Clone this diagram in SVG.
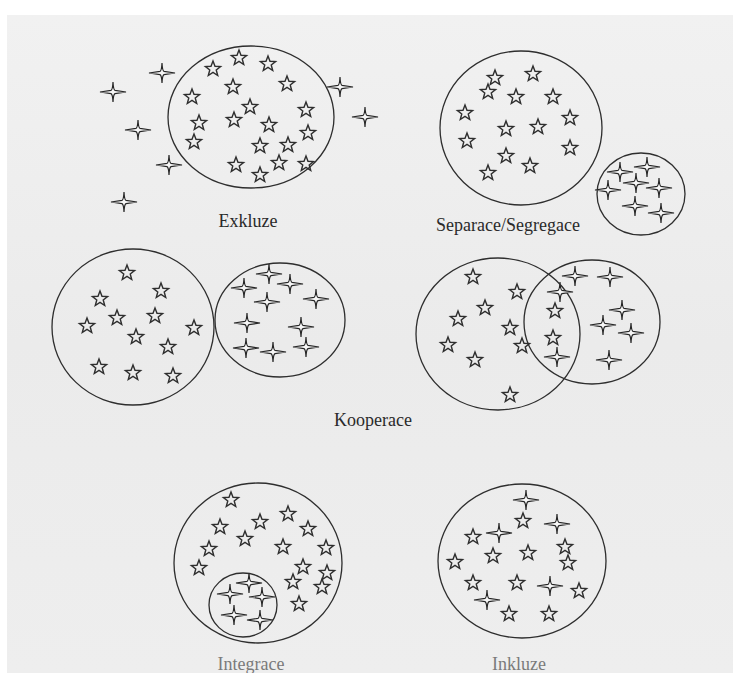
<svg xmlns="http://www.w3.org/2000/svg" xmlns:xlink="http://www.w3.org/1999/xlink" width="733" height="673" viewBox="0 0 733 673">
  <style>
    .ring { fill: none; stroke: #2e2e2e; stroke-width: 1.3; }
    .lbl { font-family: "Liberation Serif", "DejaVu Serif", serif; font-size: 18px; fill: #2a2a2a; text-anchor: middle; }
    .lbl.faint { fill: #7a7a7a; }
    .s5 { fill: none; stroke: #2e2e2e; stroke-width: 1.4; stroke-linejoin: miter; }
    .s4 { fill: #f6f6f6; stroke: #262626; stroke-width: 1.2; stroke-linejoin: miter; }
  </style>
  <defs>
    <linearGradient id="paper" x1="0" y1="0" x2="0" y2="1">
      <stop offset="0" stop-color="#f1f1f1"/>
      <stop offset="0.5" stop-color="#ebebeb"/>
      <stop offset="1" stop-color="#eeeeee"/>
    </linearGradient>
    <!-- five-pointed outline star -->
    <path id="star5" class="s5" d="M0,-8 L2,-2.75 L7.61,-2.47 L3.23,1.05 L4.7,6.47 L0,3.4 L-4.7,6.47 L-3.23,1.05 L-7.61,-2.47 L-2,-2.75 Z"/>
    <!-- four-pointed sparkle, long thin horizontal arms -->
    <path id="star4" class="s4" d="M0,-10 Q0.4,-2.2 2,-1.6 L13,0 L2,1.6 Q0.4,2.2 0,10 Q-0.4,2.2 -2,1.6 L-13,0 L-2,-1.6 Q-0.4,-2.2 0,-10 Z"/>
  </defs>

  <rect width="733" height="673" fill="#ffffff"/>
  <rect x="7" y="15" width="726" height="658" fill="url(#paper)"/>

  <!-- Exkluze -->
  <g id="exkluze">
    <ellipse class="ring" cx="251" cy="117" rx="83" ry="71"/>
    <use xlink:href="#star5" x="239" y="58"/>
    <use xlink:href="#star5" x="213" y="69"/>
    <use xlink:href="#star5" x="268" y="64"/>
    <use xlink:href="#star5" x="233" y="87"/>
    <use xlink:href="#star5" x="287" y="84"/>
    <use xlink:href="#star5" x="192" y="97"/>
    <use xlink:href="#star5" x="250" y="107"/>
    <use xlink:href="#star5" x="306" y="110"/>
    <use xlink:href="#star5" x="199" y="123"/>
    <use xlink:href="#star5" x="234" y="120"/>
    <use xlink:href="#star5" x="269" y="125"/>
    <use xlink:href="#star5" x="308" y="133"/>
    <use xlink:href="#star5" x="194" y="142"/>
    <use xlink:href="#star5" x="260" y="146"/>
    <use xlink:href="#star5" x="288" y="145"/>
    <use xlink:href="#star5" x="236" y="165"/>
    <use xlink:href="#star5" x="279" y="163"/>
    <use xlink:href="#star5" x="306" y="164"/>
    <use xlink:href="#star5" x="260" y="175"/>
    <use xlink:href="#star4" x="162" y="73"/>
    <use xlink:href="#star4" x="113" y="92"/>
    <use xlink:href="#star4" x="340" y="87"/>
    <use xlink:href="#star4" x="365" y="117"/>
    <use xlink:href="#star4" x="138" y="130"/>
    <use xlink:href="#star4" x="169" y="165"/>
    <use xlink:href="#star4" x="124" y="202"/>
    <text class="lbl" x="248" y="227">Exkluze</text>
  </g>

  <!-- Separace/Segregace -->
  <g id="separace">
    <ellipse class="ring" cx="521" cy="128" rx="81" ry="77"/>
    <ellipse class="ring" cx="641" cy="194" rx="44" ry="41"/>
    <use xlink:href="#star5" x="495" y="78"/>
    <use xlink:href="#star5" x="533" y="74"/>
    <use xlink:href="#star5" x="488" y="92"/>
    <use xlink:href="#star5" x="516" y="97"/>
    <use xlink:href="#star5" x="553" y="97"/>
    <use xlink:href="#star5" x="465" y="113"/>
    <use xlink:href="#star5" x="570" y="118"/>
    <use xlink:href="#star5" x="506" y="129"/>
    <use xlink:href="#star5" x="538" y="127"/>
    <use xlink:href="#star5" x="467" y="141"/>
    <use xlink:href="#star5" x="570" y="148"/>
    <use xlink:href="#star5" x="506" y="156"/>
    <use xlink:href="#star5" x="530" y="166"/>
    <use xlink:href="#star5" x="488" y="173"/>
    <use xlink:href="#star4" x="620" y="172"/>
    <use xlink:href="#star4" x="647" y="167"/>
    <use xlink:href="#star4" x="636" y="183"/>
    <use xlink:href="#star4" x="608" y="190"/>
    <use xlink:href="#star4" x="659" y="188"/>
    <use xlink:href="#star4" x="635" y="206"/>
    <use xlink:href="#star4" x="661" y="213"/>
    <text class="lbl" x="508" y="231">Separace/Segregace</text>
  </g>

  <!-- Kooperace: touching pair -->
  <g id="kooperace-touching">
    <ellipse class="ring" cx="133" cy="327" rx="81" ry="78"/>
    <ellipse class="ring" cx="280" cy="320" rx="65" ry="57"/>
    <use xlink:href="#star5" x="127" y="273"/>
    <use xlink:href="#star5" x="161" y="291"/>
    <use xlink:href="#star5" x="100" y="299"/>
    <use xlink:href="#star5" x="117" y="318"/>
    <use xlink:href="#star5" x="155" y="316"/>
    <use xlink:href="#star5" x="87" y="326"/>
    <use xlink:href="#star5" x="194" y="328"/>
    <use xlink:href="#star5" x="136" y="337"/>
    <use xlink:href="#star5" x="168" y="347"/>
    <use xlink:href="#star5" x="99" y="367"/>
    <use xlink:href="#star5" x="133" y="373"/>
    <use xlink:href="#star5" x="173" y="376"/>
    <use xlink:href="#star4" x="269" y="274"/>
    <use xlink:href="#star4" x="244" y="288"/>
    <use xlink:href="#star4" x="290" y="284"/>
    <use xlink:href="#star4" x="267" y="302"/>
    <use xlink:href="#star4" x="316" y="299"/>
    <use xlink:href="#star4" x="247" y="323"/>
    <use xlink:href="#star4" x="301" y="327"/>
    <use xlink:href="#star4" x="246" y="348"/>
    <use xlink:href="#star4" x="273" y="352"/>
    <use xlink:href="#star4" x="306" y="347"/>
  </g>

  <!-- Kooperace: overlapping pair -->
  <g id="kooperace-overlap">
    <ellipse class="ring" cx="498" cy="334" rx="82" ry="76"/>
    <ellipse class="ring" cx="592" cy="322" rx="68" ry="62"/>
    <use xlink:href="#star5" x="473" y="277"/>
    <use xlink:href="#star5" x="517" y="292"/>
    <use xlink:href="#star5" x="485" y="308"/>
    <use xlink:href="#star5" x="458" y="319"/>
    <use xlink:href="#star5" x="510" y="328"/>
    <use xlink:href="#star5" x="448" y="345"/>
    <use xlink:href="#star5" x="522" y="346"/>
    <use xlink:href="#star5" x="475" y="360"/>
    <use xlink:href="#star5" x="510" y="395"/>
    <use xlink:href="#star5" x="555" y="311"/>
    <use xlink:href="#star5" x="553" y="338"/>
    <use xlink:href="#star4" x="575" y="276"/>
    <use xlink:href="#star4" x="610" y="277"/>
    <use xlink:href="#star4" x="560" y="292"/>
    <use xlink:href="#star4" x="622" y="310"/>
    <use xlink:href="#star4" x="603" y="325"/>
    <use xlink:href="#star4" x="631" y="333"/>
    <use xlink:href="#star4" x="557" y="357"/>
    <use xlink:href="#star4" x="609" y="360"/>
  </g>

  <text class="lbl" x="373" y="426">Kooperace</text>

  <!-- Integrace -->
  <g id="integrace">
    <ellipse class="ring" cx="258" cy="563" rx="84" ry="80"/>
    <ellipse class="ring" cx="243" cy="605" rx="34" ry="32"/>
    <use xlink:href="#star5" x="231" y="500"/>
    <use xlink:href="#star5" x="288" y="514"/>
    <use xlink:href="#star5" x="260" y="522"/>
    <use xlink:href="#star5" x="220" y="527"/>
    <use xlink:href="#star5" x="308" y="529"/>
    <use xlink:href="#star5" x="245" y="539"/>
    <use xlink:href="#star5" x="283" y="547"/>
    <use xlink:href="#star5" x="326" y="548"/>
    <use xlink:href="#star5" x="209" y="549"/>
    <use xlink:href="#star5" x="303" y="567"/>
    <use xlink:href="#star5" x="199" y="568"/>
    <use xlink:href="#star5" x="327" y="573"/>
    <use xlink:href="#star5" x="293" y="582"/>
    <use xlink:href="#star5" x="322" y="587"/>
    <use xlink:href="#star5" x="299" y="604"/>
    <use xlink:href="#star4" x="249" y="583"/>
    <use xlink:href="#star4" x="230" y="594"/>
    <use xlink:href="#star4" x="262" y="597"/>
    <use xlink:href="#star4" x="234" y="615"/>
    <use xlink:href="#star4" x="260" y="620"/>
    <text class="lbl faint" x="251" y="670">Integrace</text>
  </g>

  <!-- Inkluze -->
  <g id="inkluze">
    <ellipse class="ring" cx="522" cy="561" rx="84" ry="77"/>
    <use xlink:href="#star5" x="523" y="521"/>
    <use xlink:href="#star5" x="473" y="537"/>
    <use xlink:href="#star5" x="565" y="547"/>
    <use xlink:href="#star5" x="493" y="556"/>
    <use xlink:href="#star5" x="528" y="553"/>
    <use xlink:href="#star5" x="455" y="562"/>
    <use xlink:href="#star5" x="568" y="563"/>
    <use xlink:href="#star5" x="473" y="583"/>
    <use xlink:href="#star5" x="517" y="583"/>
    <use xlink:href="#star5" x="579" y="591"/>
    <use xlink:href="#star5" x="509" y="614"/>
    <use xlink:href="#star5" x="549" y="614"/>
    <use xlink:href="#star4" x="526" y="500"/>
    <use xlink:href="#star4" x="557" y="524"/>
    <use xlink:href="#star4" x="499" y="533"/>
    <use xlink:href="#star4" x="550" y="586"/>
    <use xlink:href="#star4" x="487" y="600"/>
    <text class="lbl faint" x="519" y="670">Inkluze</text>
  </g>
</svg>
